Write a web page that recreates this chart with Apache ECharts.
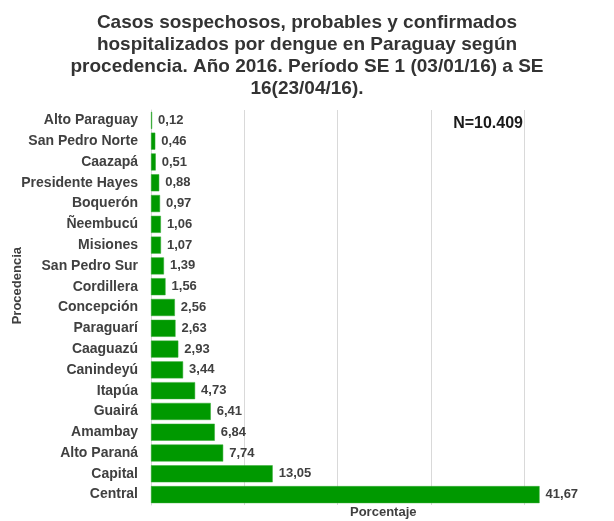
<!DOCTYPE html>
<html><head><meta charset="utf-8">
<script src="https://cdn.jsdelivr.net/npm/echarts@6/dist/echarts.min.js"></script>
<style>html,body{margin:0;padding:0;background:#fff}#c{width:614px;height:521px}</style>
</head><body><div id="c"></div>
<script>
const categories = ["Alto Paraguay","San Pedro Norte","Caazapá","Presidente Hayes","Boquerón","Ñeembucú","Misiones","San Pedro Sur","Cordillera","Concepción","Paraguarí","Caaguazú","Canindeyú","Itapúa","Guairá","Amambay","Alto Paraná","Capital","Central"];
const values = [0.12,0.46,0.51,0.88,0.97,1.06,1.07,1.39,1.56,2.56,2.63,2.93,3.44,4.73,6.41,6.84,7.74,13.05,41.67];
const titleText = "Casos sospechosos, probables y confirmados\nhospitalizados por dengue en Paraguay según\nprocedencia. Año 2016. Período SE 1 (03/01/16) a SE\n16(23/04/16).";
const font = "'Liberation Sans', Arial, sans-serif";
const chart = echarts.init(document.getElementById('c'));
chart.setOption({
  animation: false,
  title: { text: titleText, left: 'center', top: 7,
    textStyle: { fontFamily: font, fontSize: 19, fontWeight: 'bold', color: '#333', lineHeight: 22 } },
  grid: { left: 151, right: 90, top: 110, bottom: 16 },
  xAxis: { type: 'value', min: 0, max: 40, interval: 10,
    axisLabel: { show: false }, axisLine: { show: false }, axisTick: { show: false },
    splitLine: { show: true, lineStyle: { color: '#d9d9d9', width: 1 } } },
  yAxis: { type: 'category', data: categories, inverse: true,
    axisLine: { show: true, lineStyle: { color: '#d9d9d9' } }, axisTick: { show: false },
    axisLabel: { fontFamily: font, fontSize: 14, fontWeight: 'bold', color: '#404040', margin: 13 } },
  series: [{ type: 'bar', data: values, clip: false, barCategoryGap: '18%',
    itemStyle: { color: '#009900', borderColor: '#33aa33', borderWidth: 0.5 },
    label: { show: true, position: 'right', distance: 6, fontFamily: font, fontSize: 13, fontWeight: 'bold', color: '#404040',
      formatter: p => p.value.toFixed(2).replace('.', ',') } }],
  graphic: [
    { type: 'text', right: 91, top: 116, style: { text: 'N=10.409', font: "bold 16px 'Liberation Sans', Arial, sans-serif", fill: '#1a1a1a' } },
    { type: 'text', left: 350, top: 506, style: { text: 'Porcentaje', font: "bold 13px 'Liberation Sans', Arial, sans-serif", fill: '#404040' } },
    { type: 'text', left: 11, top: 247, rotation: Math.PI/2, style: { text: 'Procedencia', font: "bold 13px 'Liberation Sans', Arial, sans-serif", fill: '#404040' } }
  ]
});
</script></body></html>
